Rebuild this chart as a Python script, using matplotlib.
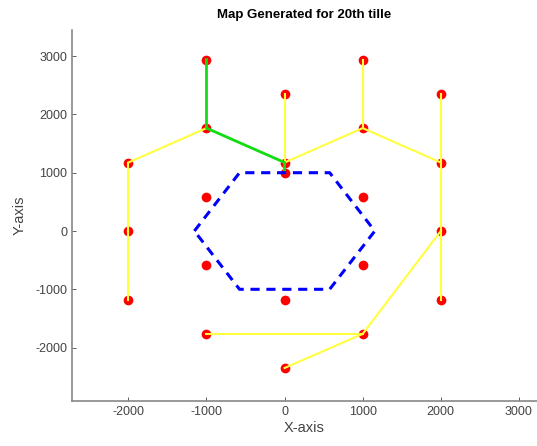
import numpy as np
import matplotlib.pyplot as plt

plt.rcParams['font.family'] = ['Liberation Sans', 'DejaVu Sans']
plt.rcParams['axes.unicode_minus'] = False
dpi = 100

# tile centres (red dots)
node_x = [-1000, 1000, 0, 2000, -1000, 1000, -2000, 0, 2000, 0,
          -1000, 1000, -2000, 2000, -1000, 1000, -2000, 0, 2000,
          -1000, 1000, 0]
node_y = [2940, 2940, 2350, 2350, 1765, 1765, 1175, 1175, 1175, 1000,
          590, 590, 0, 0, -590, -590, -1175, -1175, -1175,
          -1765, -1765, -2350]

# yellow links, as pairs of node indices
links = [(16, 12), (12, 6), (6, 4), (2, 7), (7, 5), (5, 1), (5, 8),
         (3, 8), (8, 13), (13, 18), (13, 20), (20, 19), (20, 21)]

# green route
route = [0, 4, 7, 9]

# blue obstacle hexagon
hex_x = [-1155, -577, 577, 1155, 577, -577, -1155]
hex_y = [0, 1000, 1000, 0, -1000, -1000, 0]

fig = plt.figure(figsize=(537/dpi, 446/dpi), dpi=dpi)
ax = fig.add_axes([72/537, 45/446, 465/537, 371/446])

ax.plot(node_x, node_y, 'o', color='#ff0000', ms=7, mec='none', zorder=1)
for a, b in links:
    ax.plot([node_x[a], node_x[b]], [node_y[a], node_y[b]],
            color='#ffff40', lw=1.5, zorder=2)
ax.plot([node_x[i] for i in route], [node_y[i] for i in route],
        color='#11dd11', lw=2, zorder=3)
ax.plot(hex_x, hex_y, '--', color='#0000ff', lw=2.2, dashes=(3, 2.2), zorder=3)

ax.set_xlim(-2722, 3232)
ax.set_ylim(-2916, 3448)
ax.set_xticks(np.arange(-2000, 3001, 1000))
ax.set_yticks(np.arange(-2000, 3001, 1000))
ax.tick_params(direction='in', length=3, width=0.6, colors='#444444', labelsize=9)
for s in ['top', 'right']:
    ax.spines[s].set_visible(False)
for s in ['left', 'bottom']:
    ax.spines[s].set_color('#888888')
    ax.spines[s].set_linewidth(1.2)

ax.set_title('Map Generated for 20th tille', fontsize=9.5, fontweight='bold', pad=9)
ax.set_xlabel('X-axis', fontsize=10.5, color='#444444', labelpad=2)
ax.set_ylabel('Y-axis', fontsize=10.5, color='#444444', labelpad=6)

plt.savefig('out.png', dpi=dpi)
